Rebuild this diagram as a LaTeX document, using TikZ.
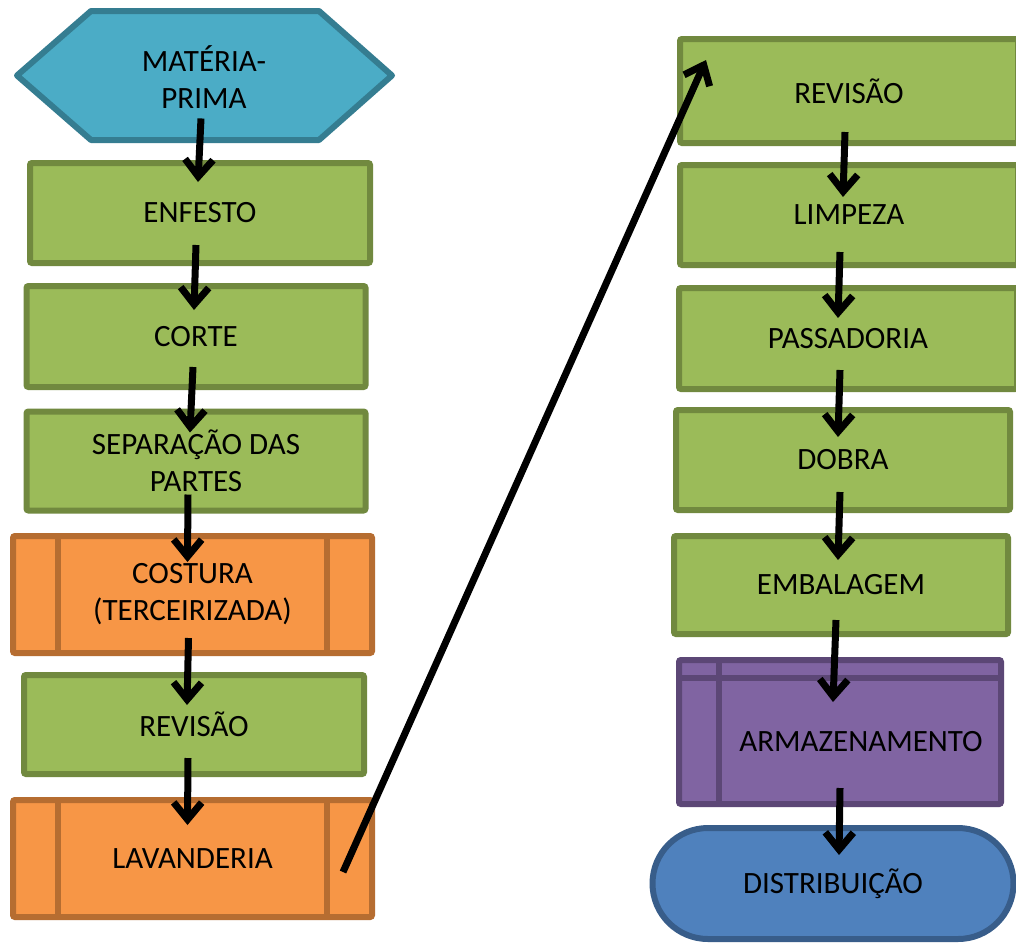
\documentclass[tikz,border=0pt]{standalone}
\usepackage{fontspec}
\setmainfont{Carlito}
\usetikzlibrary{arrows.meta,shapes.misc,calc}

\definecolor{verdeF}{HTML}{9BBB59}
\definecolor{verdeB}{HTML}{71893F}
\definecolor{laranjaF}{HTML}{F79646}
\definecolor{laranjaB}{HTML}{B66D31}
\definecolor{azulF}{HTML}{4BACC6}
\definecolor{azulB}{HTML}{357D91}
\definecolor{roxoF}{HTML}{8064A2}
\definecolor{roxoB}{HTML}{5C4776}
\definecolor{termF}{HTML}{4F81BD}
\definecolor{termB}{HTML}{385D8A}

\begin{document}
\begin{tikzpicture}[x=1pt, y=-1pt,
texto/.style={align=center, inner sep=0pt, outer sep=0pt, font=\fontsize{31}{37}\selectfont},
caixa/.style={texto, draw, line width=6pt, rounded corners=2pt},
verde/.style={caixa, fill=verdeF, draw=verdeB},
laranja/.style={caixa, fill=laranjaF, draw=laranjaB, minimum width=359pt, minimum height=117pt},
roxo/.style={caixa, fill=roxoF, draw=roxoB},
terminal/.style={texto, rounded rectangle, draw=termB, fill=termF, line width=6pt},
linhaL/.style={draw=laranjaB, line width=6pt},
linhaR/.style={draw=roxoB, line width=6pt},
seta/.style={line width=7pt, -{Straight Barb[length=17pt, width=28pt]}}]
\useasboundingbox (0,0) rectangle (1016,943);
\fill[white] (0,0) rectangle (1016,943);
\clip (0,0) rectangle (1016,943);

\draw[fill=azulF, draw=azulB, line width=6pt, line join=round] (17,75.5) -- (91,11) -- (319,11) -- (392,75.5) -- (319,140) -- (91,140) -- cycle;
\node[texto] (materia) at (204,77) {MATÉRIA-\\PRIMA};

\node[verde, minimum width=340pt, minimum height=100pt] (enfesto) at (200,213) {ENFESTO};
\node[verde, minimum width=339pt, minimum height=101pt] (corte) at (196,336.5) {CORTE};
\node[verde, minimum width=339pt, minimum height=99pt] (separacao) at (196,461) {SEPARAÇÃO DAS\\PARTES};
\node[laranja] (costura) at (192.5,594.5) {COSTURA\\(TERCEIRIZADA)};
\node[verde, minimum width=340pt, minimum height=99pt] (revisaoA) at (194,724.5) {REVISÃO};
\node[laranja] (lavanderia) at (192.5,858.5) {LAVANDERIA};

\draw[linhaL] ([xshift=45pt]costura.north west) -- ([xshift=45pt]costura.south west);
\draw[linhaL] ([xshift=-45pt]costura.north east) -- ([xshift=-45pt]costura.south east);
\draw[linhaL] ([xshift=45pt]lavanderia.north west) -- ([xshift=45pt]lavanderia.south west);
\draw[linhaL] ([xshift=-45pt]lavanderia.north east) -- ([xshift=-45pt]lavanderia.south east);

\node[verde, minimum width=338pt, minimum height=104pt] (revisaoB) at (849,91) {REVISÃO};
\node[verde, minimum width=338pt, minimum height=100pt] (limpeza) at (849,215) {LIMPEZA};
\node[verde, minimum width=338pt, minimum height=101pt] (passadoria) at (848,338.5) {PASSADORIA};
\node[verde, minimum width=334pt, minimum height=100pt] (dobra) at (843,460) {DOBRA};
\node[verde, minimum width=334pt, minimum height=98pt] (embalagem) at (841,585) {EMBALAGEM};
\node[roxo, minimum width=322pt, minimum height=144pt] (armazenamento) at (840,732) {};
\draw[linhaR] ([xshift=40pt]armazenamento.north west) -- ([xshift=40pt]armazenamento.south west);
\draw[linhaR] ([yshift=-17.5pt]armazenamento.north west) -- ([yshift=-17.5pt]armazenamento.north east);
\node[texto] (armazenamentoTxt) at (861,742) {ARMAZENAMENTO};
\node[terminal, minimum width=361pt, minimum height=111pt] (distribuicao) at (833,883.5) {DISTRIBUIÇÃO};

\draw[seta] ($(materia.south)+(-3,10)$) -- ($(enfesto.north)+(-2,19)$);
\draw[seta] ($(enfesto.south)+(-4,-18)$) -- ($(corte.north)+(-2,24)$);
\draw[seta] ($(corte.south)+(-3,-20)$) -- ($(separacao.north)+(-6,21)$);
\draw[seta] ($(separacao.south)+(-8,-16)$) -- ($(costura.north)+(-5,26)$);
\draw[seta] ($(costura.south)+(-4,-15)$) -- ($(revisaoA.north)+(-7,30)$);
\draw[seta] ($(revisaoA.south)+(-6,-16)$) -- ($(lavanderia.north)+(-5,25)$);
\draw[seta] ($(lavanderia.east)+(-29,13.5)$) -- ($(revisaoB.north west)+(26,21)$);
\draw[seta] ($(revisaoB.south)+(-4,-11)$) -- ($(limpeza.north)+(-6,32)$);
\draw[seta] ($(limpeza.south)+(-9,-13)$) -- ($(passadoria.north)+(-10,30)$);
\draw[seta] ($(passadoria.south)+(-8,-19)$) -- ($(dobra.north)+(-5,27)$);
\draw[seta] ($(dobra.south)+(-3,-18)$) -- ($(embalagem.north)+(-3,24)$);
\draw[seta] ($(embalagem.south)+(-5,-14)$) -- ($(armazenamento.north)+(-7,42)$);
\draw[seta] ($(armazenamento.south)+(0,-16)$) -- ($(distribuicao.north)+(6,27)$);
\end{tikzpicture}
\end{document}
